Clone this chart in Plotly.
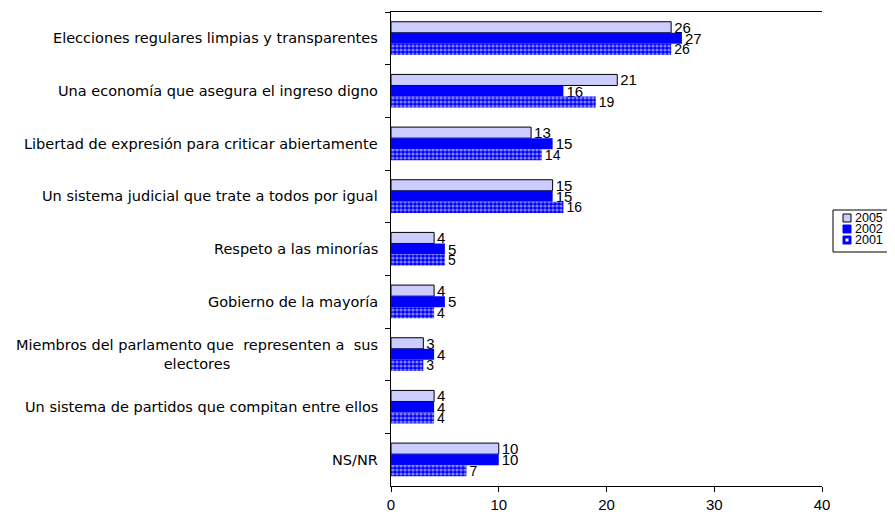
import plotly.graph_objects as go

categories = [
    "Elecciones regulares limpias y transparentes",
    "Una economía que asegura el ingreso digno",
    "Libertad de expresión para criticar abiertamente",
    "Un sistema judicial que trate a todos por igual",
    "Respeto a las minorías",
    "Gobierno de la mayoría",
    "Miembros del parlamento que  representen a  sus<br>electores",
    "Un sistema de partidos que compitan entre ellos",
    "NS/NR",
]
series_names = ["2005", "2002", "2001"]
v2005 = [26, 21, 13, 15, 4, 4, 3, 4, 10]
v2002 = [27, 16, 15, 15, 5, 5, 4, 4, 10]
v2001 = [26, 19, 14, 16, 5, 4, 3, 4, 7]
x_ticks = [0, 10, 20, 30, 40]

# page body adds an 8px offset; compensate so the screenshot lines up
OFF = 8
W, H = 895 - OFF, 516 - OFF
ML, MT = 391 - OFF, 12 - OFF
MR, MB = 73, 30
PW, PH = W - ML - MR, H - MT - MB

num_font = "Liberation Sans, Arial, sans-serif"
cat_font = "DejaVu Sans, Liberation Sans, sans-serif"

LAV = "#CCCCFF"
BLUE = "#0000FF"

fig = go.Figure()
fig.add_trace(go.Bar(
    name=series_names[0], y=categories, x=v2005, orientation="h",
    marker=dict(color=LAV, line=dict(color="black", width=1)),
    text=v2005, textposition="outside", constraintext="none", cliponaxis=False,
    textfont=dict(size=15, color="black", family=num_font),
))
fig.add_trace(go.Bar(
    name=series_names[1], y=categories, x=v2002, orientation="h",
    marker=dict(color=BLUE, line=dict(width=0)),
    text=v2002, textposition="outside", constraintext="none", cliponaxis=False,
    textfont=dict(size=15, color="black", family=num_font),
))
fig.add_trace(go.Bar(
    name=series_names[2], y=categories, x=v2001, orientation="h",
    marker=dict(color=BLUE, line=dict(width=0),
                pattern=dict(shape=".", bgcolor=BLUE, fgcolor="white",
                             size=4, solidity=0.5, fillmode="overlay")),
    text=v2001, textposition="outside", constraintext="none", cliponaxis=False,
    textfont=dict(size=14, color="black", family=num_font),
))

# category labels as annotations (centred multi-line text like the reference)
for c in categories:
    fig.add_annotation(x=0, xref="paper", y=c, yref="y", text=c,
                       showarrow=False, xanchor="right", yanchor="middle",
                       align="center", xshift=-11,
                       font=dict(family=cat_font, size=14.5, color="black"))

# custom compact legend (pixel positions in screenshot space)
def px_x(px):
    return (px - OFF - ML) / PW

def px_y(py):
    return (H - MB - (py - OFF)) / PH

shapes = [dict(type="rect", xref="paper", yref="paper",
               x0=px_x(833), x1=px_x(890), y0=px_y(252), y1=px_y(210),
               line=dict(color="black", width=1), fillcolor="white", layer="above")]
rows = [218, 229, 240]
sw = [(LAV, "black"), (BLUE, BLUE), (BLUE, BLUE)]
for i, (name, py) in enumerate(zip(series_names, rows)):
    fill, lc = sw[i]
    shapes.append(dict(type="rect", xref="paper", yref="paper",
                       x0=px_x(843), x1=px_x(851), y0=px_y(py + 4), y1=px_y(py - 4),
                       line=dict(color=lc, width=1), fillcolor=fill, layer="above"))
    if i == 2:
        shapes.append(dict(type="rect", xref="paper", yref="paper",
                           x0=px_x(845.5), x1=px_x(848.5), y0=px_y(py + 1.5), y1=px_y(py - 1.5),
                           line=dict(width=0), fillcolor="white", layer="above"))
    fig.add_annotation(x=px_x(854), xref="paper", y=px_y(py), yref="paper",
                       text=name, showarrow=False, xanchor="left", yanchor="middle",
                       font=dict(family=num_font, size=12.5, color="black"),
                       borderpad=0)

fig.update_layout(
    width=W, height=H,
    margin=dict(l=ML, r=MR, t=MT, b=MB, autoexpand=False),
    paper_bgcolor="white", plot_bgcolor="white",
    barmode="group", bargap=0.37, bargroupgap=0.0,
    font=dict(family=num_font, size=15, color="black"),
    showlegend=False,
    shapes=shapes,
    xaxis=dict(range=[0, 40], tickvals=x_ticks, showgrid=False, zeroline=False,
               showline=True, linecolor="black", linewidth=1, mirror=True,
               ticks="outside", ticklen=5, tickcolor="black",
               tickfont=dict(size=15)),
    yaxis=dict(autorange="reversed", showgrid=False, zeroline=False,
               showline=True, linecolor="black", linewidth=1, mirror=False,
               ticks="outside", ticklen=5, tickcolor="black",
               tickson="boundaries", showticklabels=False),
)

fig.write_html("out.html")
